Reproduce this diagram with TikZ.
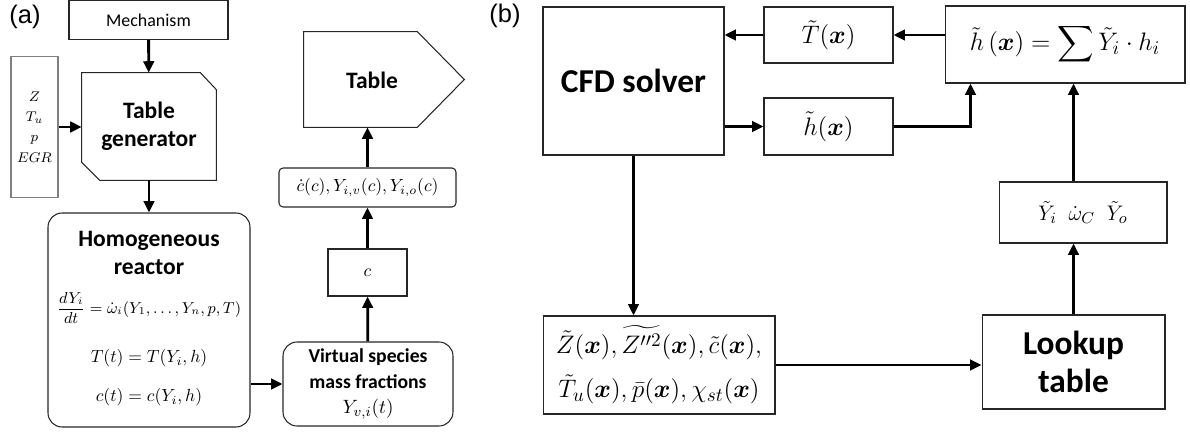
\documentclass[tikz,border=0pt]{standalone}
\usepackage{amsmath}
\usepackage{bm}
\usepackage{fontspec}
\setmainfont{Carlito}
\newfontfamily\panelfont{Liberation Sans}
\usetikzlibrary{arrows.meta,calc}

\newcommand\bigtitle{\fontsize{19}{22}\selectfont\bfseries}
\newcommand\midtitle{\fontsize{13.4}{16}\selectfont\bfseries}
\newcommand\smalltitle{\fontsize{11.2}{14.5}\selectfont\bfseries}
\newcommand\eqsize{\fontsize{9.6}{12}\selectfont}
\newcommand\bigeq{\fontsize{15}{25}\selectfont}

\tikzset{
  outline/.style={draw=black!85, line width=0.6pt},
  box/.style={outline, rectangle, inner sep=2pt},
  rbox/.style={box, rounded corners=0.28cm},
  flow/.style={-{Triangle[length=6.5pt,width=6pt]}, line width=1.6pt},
}

\begin{document}
\begin{tikzpicture}[x=0.02cm, y=-0.02cm]
  \useasboundingbox (0,0) rectangle (1190,432);

  % panel labels
  \node[font=\panelfont\fontsize{14.5}{16}\selectfont] (pa) at (25,17) {(a)};
  \node[font=\panelfont\fontsize{14.5}{16}\selectfont] (pb) at (505,16) {(b)};

  % ---------- (a) table generation ----------
  % Mechanism
  \node[box, minimum width=3.18cm, minimum height=0.78cm, font=\fontsize{10.2}{12}\selectfont] (mech) at (148.5,20) {Mechanism};

  % inputs
  \node[box, draw=black!50, minimum width=0.94cm, minimum height=2.82cm, align=center, font=\fontsize{8.4}{11.6}\selectfont] (inp) at (34.5,127) {$Z$\\ $T_u$\\ $p$\\ $EGR$};

  % Table generator (cut corners)
  \node[minimum width=2.68cm, minimum height=2.14cm, align=center, font=\midtitle] (tgen) at (149,126.5) {Table\\ generator};
  \draw[outline] (tgen.north west) -- ([xshift=-0.32cm]tgen.north east) -- ([yshift=-0.34cm]tgen.north east)
    -- (tgen.south east) -- ([xshift=0.36cm]tgen.south west) -- ([yshift=0.36cm]tgen.south west) -- cycle;
  \draw[flow] (mech) -- (tgen);
  \draw[flow] (inp.east) -- (inp.east -| tgen.west);

  % Homogeneous reactor
  \node[rbox, minimum width=4.04cm, minimum height=4.28cm] (react) at (149,320) {};
  \node[align=center, font=\midtitle] (reacttitle) at (149,253) {Homogeneous\\ reactor};
  \node[font=\fontsize{8.9}{11}\selectfont] (eqode) at (149,308) {$\dfrac{dY_i}{dt}=\dot{\omega}_i(Y_1,\dots,Y_n,p,T)$};
  \node[font=\eqsize] (eqtemp) at (149,358) {$T(t)=T(Y_i,h)$};
  \node[font=\eqsize] (eqprog) at (149,397) {$c(t)=c(Y_i,h)$};
  \draw[flow] (tgen) -- (react);

  % Virtual species
  \node[rbox, minimum width=3.4cm, minimum height=1.68cm, align=center, font=\smalltitle] (virt) at (368,384) {Virtual species\\ mass fractions\\ $Y_{v,i}(t)$};
  \draw[flow] (virt.west -| react.east) -- (virt.west);

  % progress variable
  \node[box, minimum width=1.58cm, minimum height=0.94cm, font=\eqsize] (prog) at (367.5,272.5) {$c$};
  \draw[flow] (virt) -- (prog);

  % tabulated quantities
  \node[box, rounded corners=0.08cm, minimum width=3.54cm, minimum height=0.78cm, font=\eqsize] (tabq) at (367.5,187.5) {$\dot{c}(c),Y_{i,v}(c),Y_{i,o}(c)$};
  \draw[flow] (prog) -- (tabq);

  % Table (pointed box)
  \node[minimum width=2.26cm, minimum height=1.9cm] (tab) at (360.5,79.5) {};
  \draw[outline] (tab.north west) -- (tab.north east) -- ([xshift=0.94cm]tab.east) -- (tab.south east) -- (tab.south west) -- cycle;
  \node[font=\midtitle] (tabtxt) at (372,80) {Table};
  \draw[flow] (tabq.north) -- (tabq.north |- tab.south);

  % ---------- (b) CFD coupling ----------
  \node[box, minimum width=3.62cm, minimum height=2.96cm, font=\bigtitle] (cfd) at (633.5,81) {CFD solver};

  \node[box, minimum width=2.58cm, minimum height=1.12cm, font=\bigeq] (tT) at (828.5,35) {$\tilde{T}(\bm{x})$};
  \node[box, minimum width=2.58cm, minimum height=1.14cm, font=\bigeq] (th) at (828.5,126.5) {$\tilde{h}(\bm{x})$};
  \node[box, minimum width=4.8cm, minimum height=1.54cm, font=\bigeq] (hsum) at (1065,44.5) {$\tilde{h}\,(\bm{x})=\displaystyle\sum\tilde{Y}_i\cdot h_i$};

  \node[box, minimum width=3.36cm, minimum height=1.22cm, font=\fontsize{13}{15}\selectfont] (yout) at (1083,212.5) {$\tilde{Y}_i\;\;\dot{\omega}_C\;\;\tilde{Y}_o$};
  \node[box, minimum width=3.66cm, minimum height=1.88cm, align=center, font=\bigtitle] (look) at (1073.5,362) {Lookup\\ table};

  \node[box, minimum width=4.64cm, minimum height=1.96cm, align=center, font=\bigeq] (zin) at (659,365)
    {$\tilde{Z}(\bm{x}),\widetilde{Z''^2}(\bm{x}),\tilde{c}(\bm{x}),$\\ $\tilde{T}_u(\bm{x}),\bar{p}(\bm{x}),\chi_{st}(\bm{x})$};

  \draw[flow] (hsum.west |- tT.east) -- (tT.east);
  \draw[flow] (tT.west) -- (tT.west -| cfd.east);
  \draw[flow] (cfd.east |- th.west) -- (th.west);
  \draw[flow] (th.east) -| ([xshift=0.52cm]hsum.south west);
  \draw[flow] (look.north |- yout.north) -- (look.north |- hsum.south);
  \draw[flow] (look.north) -- (look.north |- yout.south);
  \draw[flow] (cfd.south) -- (cfd.south |- zin.north);
  \draw[flow] (zin.east) -- (zin.east -| look.west);
\end{tikzpicture}
\end{document}
